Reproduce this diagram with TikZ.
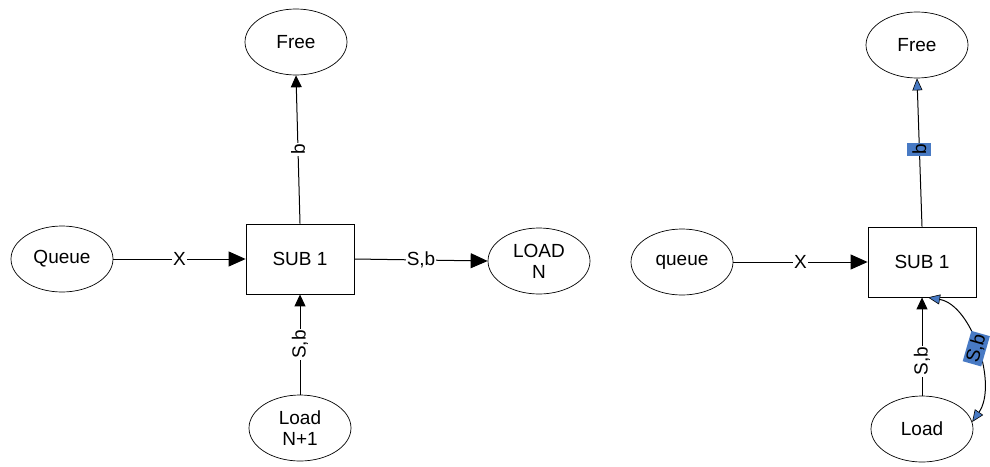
\documentclass[tikz,border=0pt]{standalone}
\usepackage{fontspec}
\setmainfont{Liberation Sans}
\usetikzlibrary{shapes.geometric,arrows.meta}
\definecolor{bluelbl}{RGB}{72,122,196}
\tikzset{
  ell/.style={draw, line width=0.7pt, ellipse, minimum width=102pt, minimum height=66pt, inner sep=0pt, align=center, font=\fontsize{19}{21}\selectfont},
  subbox/.style={draw, line width=0.8pt, minimum width=108pt, minimum height=70pt, inner sep=0pt, font=\fontsize{19}{21}\selectfont},
  conn/.style={line width=1pt, -{Triangle[length=17pt,width=15pt]}},
  connsm/.style={line width=1pt, -{Triangle[length=12pt,width=11pt]}},
  bluetip/.style={line width=1pt, -{Triangle[length=12pt,width=10pt,fill=bluelbl,line width=0.6pt]}},
  lbl/.style={fill=white, inner sep=1pt, font=\fontsize{19}{21}\selectfont},
  bluel/.style={fill=bluelbl, inner sep=1pt, font=\fontsize{19}{21}\selectfont}
}
\begin{document}
\begin{tikzpicture}[x=1pt,y=-1pt]
\useasboundingbox[fill=white] (0,0) rectangle (990,466);
% left diagram
\node[ell] (free1) at (296,42) {Free};
\node[subbox] (sub1) at (300,259) {SUB 1};
\node[ell] (queue1) at (62,259) {Queue};
\node[ell] (loadn) at (539,261) {LOAD\\N};
\node[ell] (loadn1) at (300,428) {Load\\N+1};
\draw[conn] (queue1) -- node[lbl]{X} (sub1);
\draw[conn] (sub1.east) -- node[lbl]{S,b} (loadn.west);
\draw[connsm] (sub1.north) -- node[lbl, rotate=90, pos=0.5]{b} (free1.south);
\draw[connsm] (loadn1.north) -- node[lbl, rotate=90, pos=0.5]{S,b} (sub1.south);
% right diagram
\node[ell] (free2) at (917,45) {Free};
\node[subbox] (sub2) at (922,262) {SUB 1};
\node[ell] (queue2) at (682,262) {queue};
\node[ell] (load2) at (922,429) {Load};
\draw[conn] (queue2) -- node[lbl]{X} (sub2);
\draw[bluetip] (sub2.north) -- node[bluel, rotate=90, inner xsep=1pt, inner ysep=5pt, pos=0.52]{b} (free2.south);
\draw[connsm] (load2.north) -- node[lbl, rotate=90, pos=0.35]{S,b} (sub2.south);
\coordinate (cs) at ([xshift=6pt]sub2.south);
\coordinate (ce) at (load2.8);
\draw[line width=1pt, {Triangle[length=12pt,width=10pt,fill=bluelbl,line width=0.6pt]}-{Triangle[length=12pt,width=10pt,fill=bluelbl,line width=0.6pt]}]
  (cs) .. controls (972,305) and (998,385) .. node[bluel, rotate=74, inner sep=1.5pt]{S,b} (ce);
\end{tikzpicture}
\end{document}
